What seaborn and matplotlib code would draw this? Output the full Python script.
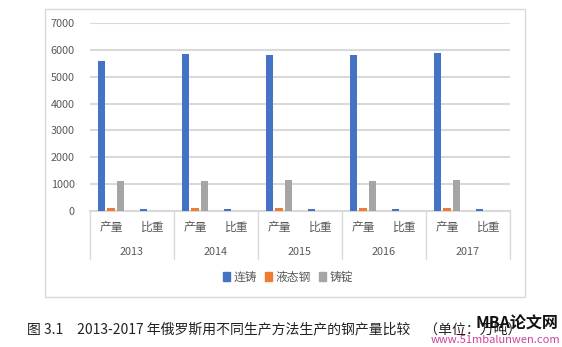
import matplotlib
matplotlib.use("Agg")
import matplotlib.pyplot as plt
import matplotlib.transforms as mtransforms
from matplotlib.patches import Rectangle
import seaborn as sns
import pandas as pd

years = ["2013", "2014", "2015", "2016", "2017"]
measures = ["产量", "比重"]
series = ["连铸", "液态钢", "铸锭"]
cc_output = [5600, 5840, 5810, 5800, 5870]
liquid_output = [130, 130, 130, 130, 130]
ingot_output = [1130, 1130, 1160, 1105, 1140]
cc_share = [70, 90, 80, 85, 85]
liquid_share = [2, 2, 2, 2, 2]
ingot_share = [16, 16, 17, 16, 16]
colors = ["#4472C4", "#ED7D31", "#A5A5A5"]

sns.set_theme(style="white")
plt.rcParams["font.family"] = ["Noto Sans CJK SC", "DejaVu Sans"]

rows = []
out_vals = [cc_output, liquid_output, ingot_output]
share_vals = [cc_share, liquid_share, ingot_share]
for i, y in enumerate(years):
    for s, name in enumerate(series):
        rows.append({"cat": f"{y}-产量", "series": name, "value": out_vals[s][i]})
        rows.append({"cat": f"{y}-比重", "series": name, "value": share_vals[s][i]})
df = pd.DataFrame(rows)
order = [f"{y}-{m}" for y in years for m in measures]

fig = plt.figure(figsize=(5.62, 3.47), dpi=100)
W, H = 562, 347
# chart frame
fig.patches.append(Rectangle((45 / W, 1 - 297 / H), 480 / W, 288 / H,
                             transform=fig.transFigure, fill=False,
                             edgecolor="#D9D9D9", linewidth=1.0))
ax = fig.add_axes([90 / W, 1 - 211 / H, 420 / W, 188 / H])

sns.barplot(data=df, x="cat", y="value", hue="series", order=order,
            hue_order=series, palette=colors, saturation=1, errorbar=None,
            width=0.66, gap=0.22, ax=ax, legend=False, zorder=3, linewidth=0)

ax.set_ylim(0, 7000)
ax.set_xlim(-0.5, len(order) - 0.5)
ax.set_yticks(range(0, 7001, 1000))
ax.yaxis.grid(True, color="#D9D9D9", linewidth=1.5, zorder=0)
ax.set_axisbelow(True)
for sp in ["top", "right", "left"]:
    ax.spines[sp].set_visible(False)
ax.spines["bottom"].set_color("#D9D9D9")
ax.spines["bottom"].set_linewidth(1.5)
ax.tick_params(axis="y", length=0, pad=11, labelsize=7.8, labelcolor="#595959")
ax.set_xticks(range(len(order)))
ax.set_xticklabels([m for y in years for m in measures])
ax.tick_params(axis="x", length=0, pad=7, labelsize=8.5, labelcolor="#595959")
ax.set_xlabel("")
ax.set_ylabel("")

trans = mtransforms.blended_transform_factory(ax.transData, ax.transAxes)
for i, y in enumerate(years):
    ax.text(2 * i + 0.5, -0.218, y, transform=trans, ha="center", va="center",
            fontsize=7.8, color="#595959")
for k in range(len(years) + 1):
    ax.plot([2 * k - 0.5, 2 * k - 0.5], [0, -0.255], transform=trans,
            color="#D9D9D9", linewidth=1.0, clip_on=False)

# legend
handles = [Rectangle((0, 0), 1, 1, color=c) for c in colors]
fig.legend(handles, series, loc="center", bbox_to_anchor=(288 / W, 1 - 277 / H),
           ncol=3, frameon=False, fontsize=8.5, handlelength=0.6, handleheight=0.7,
           handletextpad=0.3, columnspacing=0.7, labelcolor="#595959")

# caption
fig.text(27 / W, 1 - 329 / H,
         "图 3.1　2013-2017 年俄罗斯用不同生产方法生产的钢产量比较　（单位：万吨）",
         fontsize=10, color="#222222", va="center", ha="left")
fig.text(558 / W, 1 - 324 / H, "MBA论文网", fontsize=11.5, fontweight="bold",
         style="italic", color="#111111", ha="right", va="center")
fig.text(560 / W, 1 - 340 / H, "www.51mbalunwen.com", fontsize=8,
         style="italic", color="#D040A0", ha="right", va="center")

fig.savefig("out.png", dpi=100)
